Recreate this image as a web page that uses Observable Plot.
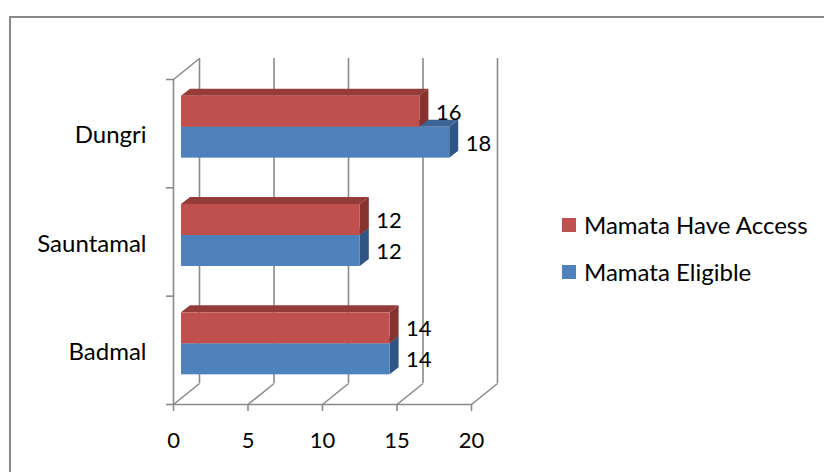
<!DOCTYPE html>
<html>
<head>
<meta charset="utf-8">
<script src="https://cdn.jsdelivr.net/npm/d3@7"></script>
<script src="https://cdn.jsdelivr.net/npm/@observablehq/plot@0.6"></script>
<style>
  html, body { margin: 0; padding: 0; background: #fff; overflow: hidden; }
  #wrap { position: relative; width: 824px; height: 472px; }
  #border { position: absolute; left: 9px; top: 16px; width: 900px; height: 600px; border: 2px solid #898989; box-sizing: border-box; pointer-events: none; }
  #chart { position: absolute; left: 0; top: 0; }
  .item { position: absolute; left: 562px; height: 30px; display: flex; align-items: center; }
  .leg { font-family: Lato, sans-serif; font-size: 24px; color: #000; white-space: nowrap; line-height: 1; margin-left: 8px; }
  .sw { width: 14px; height: 14px; flex: none; }
</style>
</head>
<body>
<div id="wrap">
  <div id="chart"></div>
  <div id="legend"></div>
  <div id="border"></div>
</div>
<script>
// ---- data ----
const categories = ["Badmal", "Sauntamal", "Dungri"];      // bottom to top
const haveAccess = [14, 12, 16];
const eligible   = [14, 12, 18];
const seriesNames = ["Mamata Have Access", "Mamata Eligible"];
const xTicks = [0, 5, 10, 15, 20];

// ---- styling constants ----
const colors = {
  "Mamata Have Access": {front: "#C0504D", top: "#953B39", side: "#86322F"},
  "Mamata Eligible":    {front: "#4F81BD", top: "#3C6494", side: "#2F5585"}
};
const xRange = [173, 471], yRange = [404, 79];
const kx = (xRange[1] - xRange[0]) / 20;          // px per value unit
const ky = (yRange[0] - yRange[1]) / categories.length; // px per category band
const wallDX = 26, wallDY = 21;                   // floor/wall depth (px)
const barDX = 9, barDY = 7;                       // bar depth (px)
const offX = 8, offY = -6.5;                      // bar placement within depth
const barH = 31 / ky;                             // one bar thickness in band units
const gridStroke = "#8a8a8a";
const font = "Lato, sans-serif";

// ---- rows ----
const rows = [];
categories.forEach((c, i) => {
  const center = i + 0.5;
  rows.push({cat: c, series: seriesNames[0], value: haveAccess[i], y1: center, y2: center + barH});
  rows.push({cat: c, series: seriesNames[1], value: eligible[i], y1: center - barH, y2: center});
});
rows.forEach((r, j) => r.key = j);

function topPts(rs) {
  return rs.flatMap(r => [
    {key: r.key, y: r.y2, x1: 0, x2: r.value},
    {key: r.key, y: r.y2 + barDY / ky, x1: barDX / kx, x2: r.value + barDX / kx}
  ]);
}
function sidePts(rs) {
  return rs.flatMap(r => [
    {key: r.key, x: r.value, y1: r.y1, y2: r.y2},
    {key: r.key, x: r.value + barDX / kx, y1: r.y1 + barDY / ky, y2: r.y2 + barDY / ky}
  ]);
}

const barMarks = [];
for (const s of [seriesNames[1], seriesNames[0]]) {   // blue behind, red on top
  const rs = rows.filter(r => r.series === s);
  const col = colors[s];
  barMarks.push(
    Plot.areaX(topPts(rs), {y: "y", x1: "x1", x2: "x2", z: "key", fill: col.top, dx: offX, dy: offY}),
    Plot.areaY(sidePts(rs), {x: "x", y1: "y1", y2: "y2", z: "key", fill: col.side, dx: offX, dy: offY}),
    Plot.rect(rs, {x1: 0, x2: "value", y1: "y1", y2: "y2", fill: col.front, dx: offX, dy: offY})
  );
}

const chart = Plot.plot({
  width: 824,
  height: 472,
  margin: 0,
  style: {background: "transparent"},
  x: {domain: [0, 20], range: xRange, axis: null},
  y: {domain: [0, categories.length], range: yRange, axis: null},
  marks: [
    // back wall gridlines
    Plot.ruleX(xTicks, {y1: 0, y2: categories.length, dx: wallDX, dy: -wallDY, stroke: gridStroke, strokeWidth: 1.6}),
    // floor diagonals
    Plot.link(xTicks, {x1: d => d, y1: 0, x2: d => d + wallDX / kx, y2: wallDY / ky, stroke: gridStroke, strokeWidth: 1.6}),
    // left wall
    Plot.ruleX([0], {y1: 0, y2: categories.length, stroke: gridStroke, strokeWidth: 1.6}),
    Plot.link([categories.length], {x1: 0, y1: d => d, x2: wallDX / kx, y2: d => d + wallDY / ky, stroke: gridStroke, strokeWidth: 1.6}),
    // front floor edge
    Plot.ruleY([0], {x1: 0, x2: 20, stroke: gridStroke, strokeWidth: 1.6}),
    // tick marks
    Plot.ruleY(d3.range(categories.length + 1), {x1: -7 / kx, x2: 0, stroke: gridStroke, strokeWidth: 1.6}),
    Plot.ruleX(xTicks, {y1: 0, y2: -7 / ky, stroke: gridStroke, strokeWidth: 1.6}),
    // bars
    ...barMarks,
    // value labels
    Plot.text(rows, {x: "value", y: r => (r.y1 + r.y2) / 2, text: r => String(r.value), dx: 24, dy: offY + 1, textAnchor: "start", fontFamily: font, fontSize: 22, fill: "#000"}),
    // category labels
    Plot.text(categories, {x: 0, y: (d, i) => i + 0.5, text: d => d, dx: -27, dy: 2, textAnchor: "end", fontFamily: font, fontSize: 24, fill: "#000"}),
    // x tick labels
    Plot.text(xTicks, {x: d => d, y: 0, text: d => String(d), dy: 36, fontFamily: font, fontSize: 22, fill: "#000"})
  ]
});
document.getElementById("chart").appendChild(chart);

// legend
const legend = document.getElementById("legend");
const legendTop = [210, 257];
seriesNames.forEach((s, i) => {
  const item = document.createElement("div");
  item.className = "item";
  item.style.top = legendTop[i] + "px";
  const sw = document.createElement("div");
  sw.className = "sw";
  sw.style.background = colors[s].front;
  item.appendChild(sw);
  const t = document.createElement("div");
  t.className = "leg";
  t.textContent = s;
  item.appendChild(t);
  legend.appendChild(item);
});
</script>
</body>
</html>
